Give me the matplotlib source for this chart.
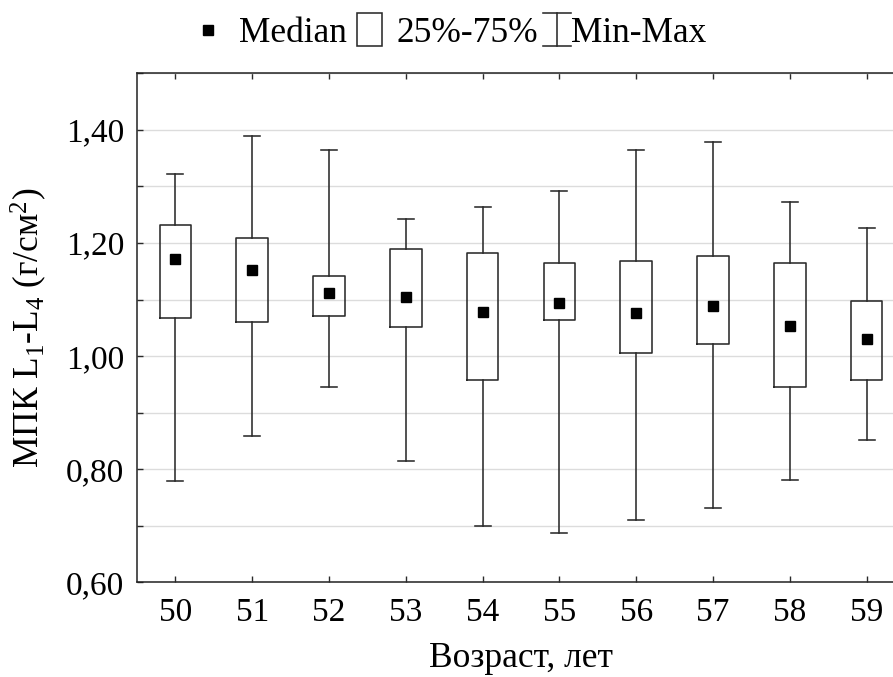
import matplotlib
matplotlib.use("Agg")
import matplotlib.pyplot as plt
from matplotlib.lines import Line2D
from matplotlib.patches import Rectangle
from matplotlib.legend_handler import HandlerBase
from matplotlib.ticker import FuncFormatter, MultipleLocator

plt.rcParams['font.family'] = ['Liberation Serif', 'DejaVu Serif']
plt.rcParams['mathtext.fontset'] = 'custom'
plt.rcParams['mathtext.rm'] = 'Liberation Serif'
plt.rcParams['mathtext.it'] = 'Liberation Serif:italic'

ages = [50, 51, 52, 53, 54, 55, 56, 57, 58, 59]
medians = [1.172, 1.153, 1.112, 1.105, 1.078, 1.093, 1.076, 1.088, 1.054, 1.030]
q1 = [1.067, 1.061, 1.071, 1.052, 0.958, 1.064, 1.005, 1.022, 0.946, 0.958]
q3 = [1.231, 1.208, 1.141, 1.189, 1.182, 1.165, 1.168, 1.177, 1.165, 1.097]
mins = [0.779, 0.859, 0.946, 0.815, 0.700, 0.688, 0.710, 0.731, 0.781, 0.852]
maxs = [1.322, 1.389, 1.365, 1.242, 1.264, 1.292, 1.365, 1.379, 1.273, 1.227]
legend_labels = ['Median', '25%-75%', 'Min-Max']

FS = 25.5
TFS = 24
LC = '#2a2a2a'

fig = plt.figure(figsize=(8.93, 6.77), dpi=100)
ax = fig.add_axes([0.1534, 0.1399, 0.86, 0.7518])

stats = [dict(med=m, q1=a, q3=b, whislo=lo, whishi=hi)
         for m, a, b, lo, hi in zip(medians, q1, q3, mins, maxs)]
ax.bxp(stats, positions=ages, widths=0.41, showfliers=False,
       capwidths=0.21,
       boxprops=dict(color=LC, linewidth=1.15),
       whiskerprops=dict(color=LC, linewidth=1.15),
       capprops=dict(color=LC, linewidth=1.15),
       medianprops=dict(linewidth=0),
       manage_ticks=False, zorder=3)
ax.plot(ages, medians, 's', color='black', ms=6.5, zorder=4)

ax.set_xlim(49.5, 59.5)
ax.set_ylim(0.60, 1.50)
ax.set_xticks(ages)
ax.set_xticklabels([str(a) for a in ages])
ax.yaxis.set_major_locator(MultipleLocator(0.2))
ax.yaxis.set_minor_locator(MultipleLocator(0.1))
ax.yaxis.set_major_formatter(FuncFormatter(lambda v, p: f"{v:.2f}".replace('.', ',')))
ax.grid(True, which='both', axis='y', color='#dcdcdc', linewidth=1.0, zorder=0)
ax.set_axisbelow(True)

ax.tick_params(axis='both', which='both', direction='in', colors=LC, labelcolor='black',
               labelsize=TFS, width=1.0, length=4)
ax.tick_params(axis='x', top=True, pad=11)
ax.tick_params(axis='y', pad=9)
for s in ['left', 'bottom', 'top']:
    ax.spines[s].set_color('#222222')
    ax.spines[s].set_linewidth(1.1)
ax.spines['right'].set_visible(False)

ax.set_xlabel('Возраст, лет', fontsize=FS, labelpad=10)
ax.set_ylabel('МПК L$_1$-L$_4$ (г/см$^2$)', fontsize=FS)
ax.yaxis.set_label_coords(-0.115, 0.5)


class HandlerMedian(HandlerBase):
    def create_artists(self, legend, orig_handle, xdescent, ydescent, width, height, fontsize, trans):
        m = Line2D([-xdescent + width * 0.29], [-ydescent + height * 0.5], marker='s',
                   ls='none', color='black', ms=6.5)
        m.set_transform(trans)
        return [m]


class HandlerBoxIcon(HandlerBase):
    def create_artists(self, legend, orig_handle, xdescent, ydescent, width, height, fontsize, trans):
        r = Rectangle((-xdescent, -ydescent - height * 0.12), width, height * 1.24,
                      facecolor='white', edgecolor=LC, linewidth=1.15)
        r.set_transform(trans)
        return [r]


class HandlerMinMax(HandlerBase):
    def create_artists(self, legend, orig_handle, xdescent, ydescent, width, height, fontsize, trans):
        cx = -xdescent + width * 0.5
        y0 = -ydescent - height * 0.12
        y1 = -ydescent + height * 1.12
        hw = width * 0.5
        arts = [Line2D([cx, cx], [y0, y1], color=LC, lw=1.15),
                Line2D([cx - hw, cx + hw], [y0, y0], color=LC, lw=1.15),
                Line2D([cx - hw, cx + hw], [y1, y1], color=LC, lw=1.15)]
        for a in arts:
            a.set_transform(trans)
        return arts


handlers = [HandlerMedian(), HandlerBoxIcon(), HandlerMinMax()]
lefts_px = [200, 357, 543]
hlens = [0.79, 0.71, 0.79]
hpads = [0.3, 0.4, 0.0]
for lab, hnd, lx, hl, hp in zip(legend_labels, handlers, lefts_px, hlens, hpads):
    key = object()
    fig.legend([key], [lab], loc='center left',
               bbox_to_anchor=(lx / 893, 1 - 33 / 677),
               frameon=False, fontsize=FS, handlelength=hl, handleheight=0.8,
               handletextpad=hp, borderpad=0, borderaxespad=0,
               handler_map={key: hnd})

fig.savefig('out.png', dpi=100)
